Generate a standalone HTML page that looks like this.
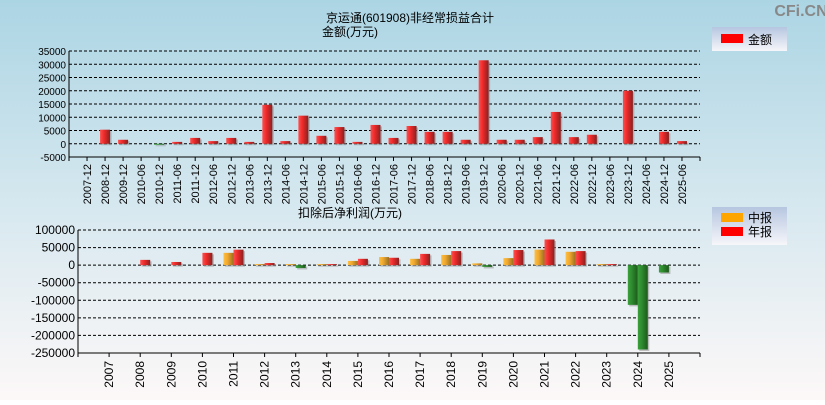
<!DOCTYPE html>
<html><head><meta charset="utf-8">
<style>
html,body{margin:0;padding:0;}
body{width:825px;height:400px;overflow:hidden;font-family:"Liberation Sans","Noto Sans CJK SC",sans-serif;}
svg text{font-family:"Liberation Sans","Noto Sans CJK SC",sans-serif;}
</style></head>
<body>
<svg id="c" width="825" height="400" xmlns="http://www.w3.org/2000/svg">
<defs>
<linearGradient id="bg" x1="0" y1="0" x2="0" y2="1"><stop offset="0" stop-color="#acd5e4"/><stop offset="0.55" stop-color="#d9e9f0"/><stop offset="1" stop-color="#fdf8f8"/></linearGradient>
<linearGradient id="red" x1="0" y1="0" x2="1" y2="0"><stop offset="0" stop-color="#ff5050"/><stop offset="0.4" stop-color="#ee2a2a"/><stop offset="1" stop-color="#8a2020"/></linearGradient>
<linearGradient id="org" x1="0" y1="0" x2="1" y2="0"><stop offset="0" stop-color="#ffc040"/><stop offset="0.4" stop-color="#f0a830"/><stop offset="1" stop-color="#9a7020"/></linearGradient>
<linearGradient id="grn" x1="0" y1="0" x2="1" y2="0"><stop offset="0" stop-color="#3aa03a"/><stop offset="0.4" stop-color="#2e8a2e"/><stop offset="1" stop-color="#1c5a1c"/></linearGradient>
<linearGradient id="leg" x1="0" y1="0" x2="0" y2="1"><stop offset="0" stop-color="#b6c6e0"/><stop offset="1" stop-color="#f6f6fa"/></linearGradient>
</defs>
<rect width="825" height="400" fill="url(#bg)"/>
<text x="801" y="16" font-size="16" font-weight="bold" fill="#888" text-anchor="middle">CFi.CN</text>
<text x="410" y="22" font-size="12" text-anchor="middle">京运通(601908)非经常损益合计</text>
<text x="350" y="36" font-size="12" text-anchor="middle">金额(万元)</text>
<text x="350" y="217" font-size="12" text-anchor="middle">扣除后净利润(万元)</text>
<g>
<rect x="712" y="27" width="75" height="24" fill="url(#leg)"/>
<rect x="721" y="34" width="22" height="9" fill="#ff0000"/>
<text x="748" y="44" font-size="12">金额</text>
</g>
<g>
<rect x="712" y="207" width="75" height="38" fill="url(#leg)"/>
<rect x="721" y="213" width="22" height="9" fill="#ffa500"/>
<text x="748" y="222" font-size="12">中报</text>
<rect x="721" y="227" width="22" height="9" fill="#ff0000"/>
<text x="748" y="236" font-size="12">年报</text>
</g>
<g id="top"></g>
<g id="bot"></g>
</svg>
<script>
const topCats=["2007-12","2008-12","2009-12","2010-06","2010-12","2011-06","2011-12","2012-06","2012-12","2013-06","2013-12","2014-06","2014-12","2015-06","2015-12","2016-06","2016-12","2017-06","2017-12","2018-06","2018-12","2019-06","2019-12","2020-06","2020-12","2021-06","2021-12","2022-06","2022-12","2023-06","2023-12","2024-06","2024-12","2025-06"];
const topVals=[0,5300,1500,0,-300,700,2200,1000,2200,700,14700,1000,10600,3000,6300,700,7100,2200,6700,4500,4500,1500,31500,1500,1500,2500,12000,2500,3400,0,20000,0,4500,1000];
const topTicks=[35000,30000,25000,20000,15000,10000,5000,0,-5000];
const botCats=["2007","2008","2009","2010","2011","2012","2013","2014","2015","2016","2017","2018","2019","2020","2021","2022","2023","2024","2025"];
const midVals=[null,null,null,null,35000,3000,3000,3000,12000,23000,18000,29000,5000,20000,44000,38000,3000,-113000,-21000];
const annVals=[null,15000,9000,35000,44000,6000,-8000,3000,18000,21000,32000,40000,-5000,43000,73000,40000,3000,-240000,null];
const botTicks=[100000,50000,0,-50000,-100000,-150000,-200000,-250000];
const NS="http://www.w3.org/2000/svg";
function mk(tag,attrs,parent){const e=document.createElementNS(NS,tag);for(const k in attrs)e.setAttribute(k,attrs[k]);parent.appendChild(e);return e;}

function drawAxes(g,x0,x1,yTop,yBot,vMax,vMin,ticks,cats,slot,labelY,opt){
  const y=v=>yTop+(vMax-v)/(vMax-vMin)*(yBot-yTop);
  ticks.forEach(t=>{
    const gl=mk('line',{x1:x0,x2:x1,y1:y(t),y2:y(t),stroke:'#000','stroke-dasharray':'3,2','stroke-width':1},g);
    
    
    const tl=mk('text',{x:x0-3,y:y(t)+4,'font-size':opt.fs,'text-anchor':'end'},g);
    tl.textContent=t;
    
    
  });
  const ax=mk('line',{x1:x0,x2:x0,y1:yTop,y2:yBot,stroke:'#000','stroke-width':1},g);
  
  
  const bx=mk('line',{x1:x0,x2:x1,y1:yBot,y2:yBot,stroke:'#000','stroke-width':1},g);
  
  
  mk('line',{x1:x0,x2:x0,y1:yBot,y2:yBot+4,stroke:'#000'},g);
  mk('line',{x1:x1,x2:x1,y1:yBot,y2:yBot+4,stroke:'#000'},g);
  cats.forEach((c,i)=>{
    const cx=x0+(i+1)*slot;
    mk('line',{x1:cx,x2:cx,y1:yBot,y2:yBot+4,stroke:'#000'},g);
    const tl=mk('text',{x:0,y:0,'font-size':opt.xfs,'text-anchor':'end',transform:`translate(${cx+4},${labelY}) rotate(-90)`},g);
    tl.textContent=c;
    
    
  });
  return y;
}
function bar(g,x,w,y0,y1,neg,fill,name){
  const top=Math.min(y0,y1),h=Math.max(Math.abs(y1-y0),1);
  mk('rect',{x:x+1.5,y:top+1.5,width:w,height:h,fill:'#888',opacity:0.5},g);
  const r=mk('rect',{x:x,y:top,width:w,height:h,fill:neg?'url(#grn)':fill},g);
  
  
}
// top chart
const gt=document.getElementById('top');
const tx0=69,tx1=700,tslot=(tx1-tx0)/35;
const ty=drawAxes(gt,tx0,tx1,51,157,35000,-5000,topTicks,topCats,tslot,164,{fs:10,xfs:11});
topVals.forEach((v,i)=>{
  if(v===0)return;
  const cx=tx0+(i+1)*tslot;
  bar(gt,cx-5,10,ty(0),ty(v),v<0,'url(#red)','bar-'+topCats[i]);
});
// bottom chart
const gb=document.getElementById('bot');
const bx0=78,bx1=700,bslot=(bx1-bx0)/20;
const by=drawAxes(gb,bx0,bx1,230,353,100000,-250000,botTicks,botCats,bslot,361,{fs:12,xfs:12});
botCats.forEach((c,i)=>{
  const cx=bx0+(i+1)*bslot;
  const m=midVals[i],a=annVals[i];
  if(m!==null)bar(gb,cx-10,10,by(0),by(m),m<0,'url(#org)','bar-mid-'+c);
  if(a!==null)bar(gb,cx,10,by(0),by(a),a<0,'url(#red)','bar-annual-'+c);
});
</script>
</body></html>
